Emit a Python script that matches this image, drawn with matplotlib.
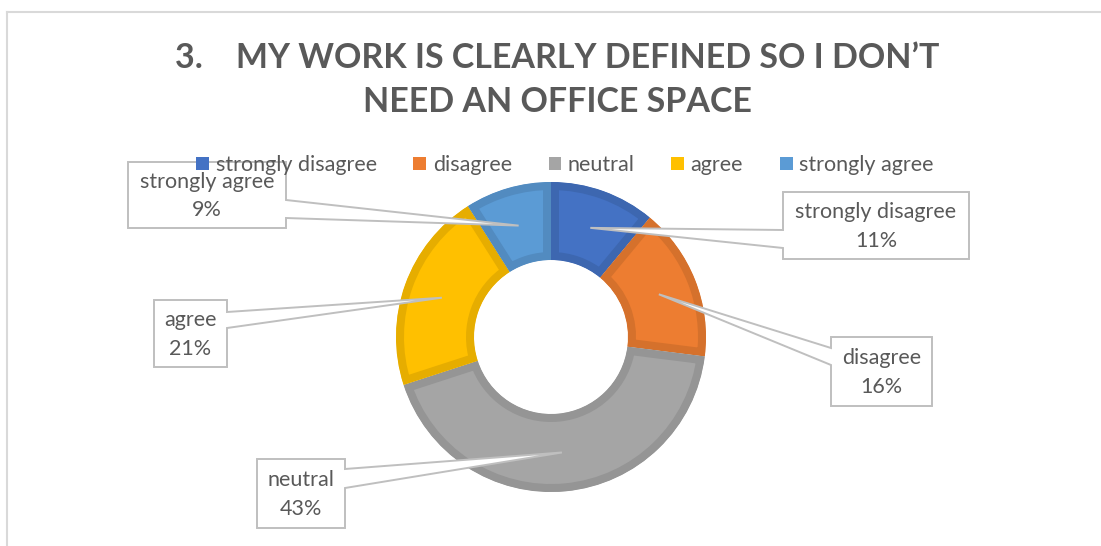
import matplotlib
matplotlib.use('Agg')
import matplotlib.pyplot as plt
from matplotlib.patches import Wedge, Polygon, Patch
from matplotlib.lines import Line2D
import numpy as np

plt.rcParams['font.family'] = ['Lato', 'DejaVu Sans']

title = '3.    MY WORK IS CLEARLY DEFINED SO I DON\u2019T\nNEED AN OFFICE SPACE'
categories = ['strongly disagree', 'disagree', 'neutral', 'agree', 'strongly agree']
percentages = [11, 16, 43, 21, 9]
colors = ['#4472C4', '#ED7D31', '#A5A5A5', '#FFC000', '#5B9BD5']

# figure is laid out in pixel units, y pointing down
W, H = 1101, 546
CX, CY = 551, 337
R_OUT, R_IN = 155, 77
BAND = 8
TEXT_GRAY = '#595959'
LABEL_SIZE = 15.5

# callout boxes: (left, top, right, bottom) and the span of the pointer base on the box side
boxes = [
	(783, 192, 969, 259, 230, 248),
	(831, 337, 932, 406, 348, 365),
	(257, 459, 345, 528, 469, 488),
	(154, 300, 227, 367, 312, 328),
	(128, 162, 286, 228, 200, 218),
]


def darker(hex_color, k=0.9):
	rgb = np.array(matplotlib.colors.to_rgb(hex_color))
	return tuple(rgb * k)


def draw_donut(ax):
	start = -90.0
	tips = []
	for value, color in zip(percentages, colors):
		end = start + value * 3.6
		w = Wedge((CX, CY), R_OUT, start, end, width=R_OUT - R_IN,
				  facecolor=color, edgecolor=darker(color), linewidth=BAND * 2 * 72 / 100,
				  joinstyle='miter')
		ax.add_patch(w)
		w.set_clip_path(w)
		mid = np.deg2rad((start + end) / 2)
		r_mid = (R_OUT + R_IN) / 2
		tips.append((CX + r_mid * np.cos(mid), CY + r_mid * np.sin(mid)))
		start = end
	return tips


def draw_callout(ax, box, tip, text):
	x0, y0, x1, y1, wa, wb = box
	tx, ty = tip
	if tx < x0:
		pts = [(x0, y0), (x1, y0), (x1, y1), (x0, y1), (x0, wb), (tx, ty), (x0, wa)]
	else:
		pts = [(x0, y0), (x1, y0), (x1, wa), (tx, ty), (x1, wb), (x1, y1), (x0, y1)]
	ax.add_patch(Polygon(pts, closed=True, facecolor='white', edgecolor='#BFBFBF',
						 linewidth=1.4, joinstyle='miter', zorder=5))
	ax.text((x0 + x1) / 2, (y0 + y1) / 2 + 1, text, ha='center', va='center',
			fontsize=LABEL_SIZE, color=TEXT_GRAY, linespacing=1.55, zorder=6)


def draw_chart():
	fig = plt.figure(figsize=(W / 100, H / 100), dpi=100)
	ax = fig.add_axes([0, 0, 1, 1])
	ax.set_xlim(0, W)
	ax.set_ylim(H, 0)
	ax.axis('off')

	# chart area frame (top and left edges)
	ax.add_line(Line2D([7, 1100], [12, 12], color='#D9D9D9', linewidth=1.5))
	ax.add_line(Line2D([7, 7], [12, H], color='#D9D9D9', linewidth=1.5))

	fig.text(557 / W, 1 - 80 / H, title, ha='center', va='center', fontsize=24.5,
			 fontweight='bold', color=TEXT_GRAY, linespacing=1.5)

	tips = draw_donut(ax)
	for cat, pct, box, tip in zip(categories, percentages, boxes, tips):
		draw_callout(ax, box, tip, f'{cat}\n{pct}%')

	handles = [Patch(facecolor=c, edgecolor='none') for c in colors]
	fig.legend(handles, categories, ncol=5, loc='center', frameon=False,
			   bbox_to_anchor=(565 / W, 1 - 165 / H), fontsize=LABEL_SIZE,
			   handlelength=0.6, handleheight=0.6, handletextpad=0.3,
			   columnspacing=1.7, labelcolor=TEXT_GRAY)

	fig.savefig('out.png', dpi=100, facecolor='white')


def main():
	draw_chart()


if __name__ == '__main__':
	main()
